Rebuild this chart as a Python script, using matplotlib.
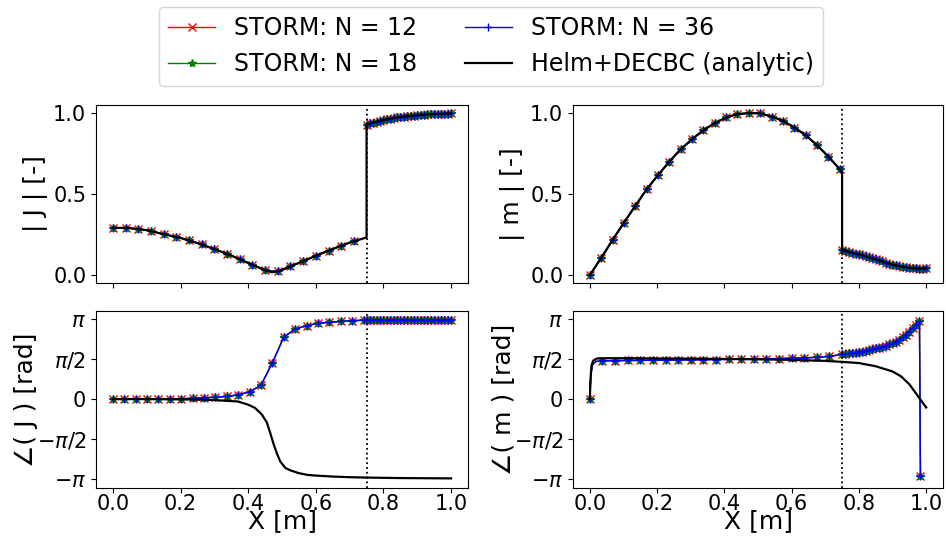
import numpy as np
import matplotlib
matplotlib.use("Agg")
import matplotlib.pyplot as plt

PI = np.pi

# ---------------- data ----------------
# |J| : STORM samples (region 1 / region 2) and analytic curve
x_jmag_1 = np.linspace(0.0, 0.7125, 20)
jmag_1 = [0.293, 0.293, 0.284, 0.273, 0.253, 0.237, 0.215, 0.190, 0.161, 0.132,
          0.099, 0.064, 0.031, 0.023, 0.056, 0.086, 0.120, 0.151, 0.182, 0.211]
x_reg2 = np.linspace(0.75, 1.0, 26)
jmag_2 = [0.929, 0.936, 0.942, 0.948, 0.953, 0.958, 0.962, 0.966, 0.970, 0.973,
          0.976, 0.979, 0.981, 0.983, 0.985, 0.987, 0.989, 0.990, 0.992, 0.993,
          0.994, 0.995, 0.996, 0.997, 0.997, 0.998]
x_jmag_an = [0.0, 0.05, 0.1, 0.15, 0.2, 0.25, 0.3, 0.35, 0.4, 0.45, 0.47, 0.49,
             0.5, 0.55, 0.6, 0.65, 0.7, 0.75]
jmag_an = [0.293, 0.291, 0.278, 0.253, 0.230, 0.198, 0.161, 0.121, 0.076, 0.031,
           0.018, 0.024, 0.032, 0.076, 0.120, 0.162, 0.201, 0.233]

# |m|
x_mmag_1 = np.linspace(0.0, 0.743, 23)
mmag_1 = [0.0, 0.107, 0.217, 0.324, 0.427, 0.530, 0.617, 0.701, 0.777, 0.839,
          0.895, 0.938, 0.973, 0.994, 1.0, 0.998, 0.979, 0.953, 0.911, 0.864,
          0.802, 0.732, 0.654]
mmag_2 = [0.155, 0.150, 0.144, 0.139, 0.133, 0.128, 0.122, 0.116, 0.110, 0.104,
          0.097, 0.091, 0.085, 0.078, 0.072, 0.066, 0.061, 0.056, 0.052, 0.048,
          0.046, 0.044, 0.042, 0.041, 0.041, 0.042]
mmag_boundary = 0.632

# angle(J) in units of pi
x_jph_1 = np.linspace(0.0, 0.741, 23)
jph_1 = [0.0, 0.0, 0.0, 0.0, 0.0, 0.0, 0.004, 0.010, 0.016, 0.024, 0.033, 0.053,
         0.091, 0.173, 0.453, 0.774, 0.875, 0.917, 0.946, 0.958, 0.970, 0.979, 0.985]
jph_2 = [0.987, 0.987, 0.987, 0.988, 0.988, 0.988, 0.988, 0.988, 0.989, 0.989,
         0.989, 0.989, 0.989, 0.989, 0.989, 0.990, 0.990, 0.990, 0.990, 0.990,
         0.990, 0.990, 0.990, 0.990, 0.990, 0.990]
x_jph_an = [0.0, 0.1, 0.2, 0.3, 0.35, 0.37, 0.4, 0.42, 0.44, 0.455, 0.465, 0.475,
            0.485, 0.495, 0.51, 0.525, 0.55, 0.575, 0.6, 0.65, 0.7, 0.75, 0.85, 1.0]
jph_an = [0.0, 0.0, -0.003, -0.012, -0.025, -0.03, -0.07, -0.11, -0.19, -0.29,
          -0.42, -0.56, -0.68, -0.78, -0.86, -0.89, -0.925, -0.946, -0.955,
          -0.967, -0.975, -0.98, -0.986, -0.99]

# angle(m) in units of pi
x_mph_1 = [0.0, 0.003, 0.008, 0.018, 0.0375, 0.075, 0.1125, 0.15, 0.1875, 0.225,
           0.2625, 0.3, 0.3375, 0.375, 0.4125, 0.45, 0.4875, 0.525, 0.5625, 0.6,
           0.6375, 0.675, 0.7125]
mph_1 = [0.0, 0.30, 0.43, 0.47, 0.478, 0.480, 0.482, 0.483, 0.485, 0.487, 0.488,
         0.490, 0.492, 0.494, 0.496, 0.498, 0.500, 0.503, 0.506, 0.510, 0.515,
         0.522, 0.532]
mph_markers_1 = [0] + list(range(4, 23))
x_mph_2 = list(np.linspace(0.75, 0.98, 24)) + [0.983]
mph_2 = [0.560, 0.565, 0.570, 0.575, 0.581, 0.587, 0.594, 0.602, 0.611, 0.621,
         0.632, 0.643, 0.655, 0.668, 0.682, 0.698, 0.718, 0.742, 0.770, 0.804,
         0.843, 0.885, 0.930, 0.979, -0.954]
x_mph_an = [0.0, 0.002, 0.005, 0.01, 0.02, 0.03, 0.1, 0.3, 0.5, 0.6, 0.7, 0.75,
            0.8, 0.85, 0.9, 0.925, 0.95, 0.975, 1.0]
mph_an = [0.0, 0.25, 0.42, 0.48, 0.505, 0.51, 0.51, 0.505, 0.497, 0.49, 0.477,
          0.465, 0.45, 0.41, 0.345, 0.285, 0.185, 0.04, -0.105]

series_labels = ["STORM: N = 12", "STORM: N = 18", "STORM: N = 36"]
series_colors = ["red", "green", "blue"]
series_markers = ["x", "*", "+"]
analytic_label = "Helm+DECBC (analytic)"
x_boundary = 0.75

# ---------------- figure ----------------
fig = plt.figure(figsize=(9.46, 5.43), dpi=100)
W, H = 946.0, 543.0
def box(l, t, r, b):
    return [l / W, 1 - b / H, (r - l) / W, (b - t) / H]

ax_jm = fig.add_axes(box(96, 105, 468, 283))
ax_mm = fig.add_axes(box(573, 105, 943, 283))
ax_jp = fig.add_axes(box(96, 311, 468, 488))
ax_mp = fig.add_axes(box(573, 311, 943, 488))

TICK = 15
LAB = 18

def storm(ax, x, y, markevery=None, scale=1.0):
    hs = []
    for lab, c, m in zip(series_labels, series_colors, series_markers):
        h, = ax.plot(x, np.asarray(y) * scale, color=c, marker=m, lw=1.0, ms=6,
                     markevery=markevery, label=lab)
        hs.append(h)
    return hs

# |J|
handles = storm(ax_jm, x_jmag_1, jmag_1)
storm(ax_jm, x_reg2, jmag_2)
hk, = ax_jm.plot(list(x_jmag_an) + list(x_reg2), jmag_an + jmag_2, color="k", lw=1.6,
                 label=analytic_label)
handles.append(hk)

# |m|
storm(ax_mm, x_mmag_1, mmag_1)
storm(ax_mm, x_reg2, mmag_2)
ax_mm.plot(list(x_mmag_1) + [x_boundary] + list(x_reg2), mmag_1 + [mmag_boundary] + mmag_2,
           color="k", lw=1.6)

# angle(J)
storm(ax_jp, list(x_jph_1) + list(x_reg2), jph_1 + jph_2, scale=PI)
ax_jp.plot(x_jph_an, np.asarray(jph_an) * PI, color="k", lw=1.6)

# angle(m)
n1 = len(x_mph_1)
mk = mph_markers_1 + list(range(n1, n1 + len(x_mph_2)))
storm(ax_mp, list(x_mph_1) + list(x_mph_2), mph_1 + mph_2, markevery=mk, scale=PI)
ax_mp.plot(x_mph_an, np.asarray(mph_an) * PI, color="k", lw=1.6)

for ax in (ax_jm, ax_mm, ax_jp, ax_mp):
    ax.axvline(x_boundary, color="k", ls=":", lw=1.3)
    ax.set_xlim(-0.05, 1.05)
    ax.set_xticks([0.0, 0.2, 0.4, 0.6, 0.8, 1.0])
    ax.tick_params(labelsize=TICK)

for ax in (ax_jm, ax_mm):
    ax.set_yticks([0.0, 0.5, 1.0])
    ax.set_yticklabels(["0.0", "0.5", "1.0"])
    ax.tick_params(labelbottom=False)
    ax.set_ylim(-0.048, 1.05)

for ax in (ax_jp, ax_mp):
    ax.set_yticks([-PI, -PI / 2, 0, PI / 2, PI])
    ax.set_yticklabels([r"$-\pi$", r"$-\pi/2$", r"$0$", r"$\pi/2$", r"$\pi$"])
    ax.set_ylim(-1.11 * PI, 1.10 * PI)
    ax.set_xticklabels(["0.0", "0.2", "0.4", "0.6", "0.8", "1.0"])
    ax.tick_params(axis="x", pad=0.5)
    ax.set_xlabel("X [m]", fontsize=LAB, va="center")
    ax.xaxis.set_label_coords(0.5, -(521 - 488) / 177.0)

ax_jm.set_ylabel("| J | [-]", fontsize=LAB)
ax_mm.set_ylabel("| m | [-]", fontsize=LAB)
ax_jp.set_ylabel("∠( J ) [rad]", fontsize=LAB, labelpad=-1)
ax_mp.set_ylabel("∠( m ) [rad]", fontsize=LAB, labelpad=-1)

fig.legend(handles=handles, loc="upper center", bbox_to_anchor=(491 / W, 1 - 7 / H),
           ncol=2, fontsize=17, borderaxespad=0, frameon=True)

fig.savefig("out.png", dpi=100)
